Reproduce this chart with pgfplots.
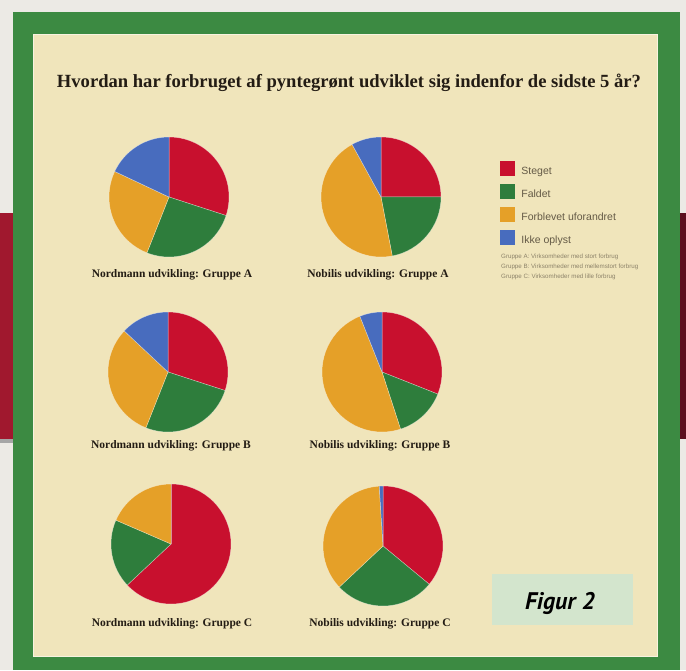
\documentclass[border=0pt]{standalone}
\usepackage{pgfplots}
\usepackage{pgfplotstable}
\pgfplotsset{compat=1.18}
\usepackage{fontspec}
\usepackage{graphicx}
\setmainfont{Liberation Serif}
\newfontfamily\sans{Liberation Sans}
\newfontfamily\figfont{PT Sans}

\definecolor{cRed}{RGB}{200,16,46}
\definecolor{cGreen}{RGB}{46,125,60}
\definecolor{cOrange}{RGB}{229,160,40}
\definecolor{cBlue}{RGB}{72,108,190}
\definecolor{frame}{RGB}{60,138,66}
\definecolor{paper}{RGB}{240,229,187}
\definecolor{outer}{RGB}{236,234,229}
\definecolor{band}{RGB}{160,24,46}
\definecolor{bandR}{RGB}{92,15,30}
\definecolor{figbox}{RGB}{211,229,205}
\definecolor{ink}{RGB}{35,28,20}
\definecolor{legtext}{RGB}{100,90,70}
\definecolor{notetext}{RGB}{140,130,105}

% share of each answer (percent), one row per pie
\pgfplotstableread{
pie  steget faldet uforandret ikke
NA   30     26     26         18
BA   25     22     45         8
NB   30     26     31         13
BB   31     14     49         6
NC   63     18.5   18.5       0
BC   36     27     36         1
}\piedata

\pgfplotsset{pieaxis/.style={width=120pt,height=120pt,scale only axis,hide axis,
  xmin=-1,xmax=1,ymin=-1,ymax=1,anchor=center,clip=false}}

\tikzset{slice/.style={draw=white,draw opacity=0.45,line width=0.5pt}}

% #1 row, #2 #3 centre (px), #4 label, #5 #6 label position (px)
\newcommand\pie[6]{%
  \pgfplotstablegetelem{#1}{steget}\of\piedata\let\vA\pgfplotsretval
  \pgfplotstablegetelem{#1}{faldet}\of\piedata\let\vB\pgfplotsretval
  \pgfplotstablegetelem{#1}{uforandret}\of\piedata\let\vC\pgfplotsretval
  \pgfplotstablegetelem{#1}{ikke}\of\piedata\let\vD\pgfplotsretval
  \pgfmathsetmacro\aA{90}%
  \pgfmathsetmacro\aB{\aA-3.6*\vA}%
  \pgfmathsetmacro\aC{\aB-3.6*\vB}%
  \pgfmathsetmacro\aD{\aC-3.6*\vC}%
  \pgfmathsetmacro\aE{\aD-3.6*\vD}%
  \begin{axis}[pieaxis,at={(#2pt,{670pt-#3pt})}]
    \fill[cRed,slice] (axis cs:0,0) -- (axis cs:{cos(\aA)},{sin(\aA)}) arc[start angle=\aA,end angle=\aB,radius=60pt] -- cycle;
    \fill[cGreen,slice] (axis cs:0,0) -- (axis cs:{cos(\aB)},{sin(\aB)}) arc[start angle=\aB,end angle=\aC,radius=60pt] -- cycle;
    \fill[cOrange,slice] (axis cs:0,0) -- (axis cs:{cos(\aC)},{sin(\aC)}) arc[start angle=\aC,end angle=\aD,radius=60pt] -- cycle;
    \fill[cBlue,slice] (axis cs:0,0) -- (axis cs:{cos(\aD)},{sin(\aD)}) arc[start angle=\aD,end angle=\aE,radius=60pt] -- cycle;
  \end{axis}
  \node[font=\bfseries\fontsize{11.5}{13}\selectfont,text=ink,inner sep=0pt] at (#5,670-#6) {#4};
}

\begin{document}
\begin{tikzpicture}[x=1pt,y=1pt]
% background, frame and paper
\fill[outer] (0,0) rectangle (686,670);
\fill[black!35] (0,670-443) rectangle (13,670-439);
\fill[band] (0,670-439) rectangle (13,670-213);
\fill[bandR] (680,670-439) rectangle (686,670-213);
\fill[frame] (13,0) rectangle (680,670-12);
\fill[paper] (33,13) rectangle (658,670-34);
\draw[white!55!paper,line width=1pt] (33.5,13.5) rectangle (657.5,670-34.5);

\node[inner sep=0pt,text=ink] at (349,670-83)
  {\resizebox{584pt}{!}{\bfseries Hvordan har forbruget af pyntegrønt udviklet sig indenfor de sidste 5 år?}};

\pie{0}{169}{197}{Nordmann udvikling: Gruppe A}{172}{275}
\pie{1}{381}{197}{Nobilis udvikling: Gruppe A}{378}{275}
\pie{2}{168}{372}{Nordmann udvikling: Gruppe B}{171}{446}
\pie{3}{382}{372}{Nobilis udvikling: Gruppe B}{380}{446}
\pie{4}{171}{544}{Nordmann udvikling: Gruppe C}{172}{624}
\pie{5}{383}{546}{Nobilis udvikling: Gruppe C}{380}{624}

% legend
\begin{axis}[hide axis,scale only axis,width=10pt,height=10pt,
  xmin=0,xmax=1,ymin=0,ymax=1,at={(500pt,{670pt-161pt})},anchor=north west,
  legend style={at={(0,1)},anchor=north west,draw=none,fill=none,inner sep=0pt,outer sep=0pt,
    row sep=7.7pt,font=\sans\fontsize{10.5}{12}\selectfont,text=legtext,
    nodes={inner sep=0pt}},
  legend cell align=left,
  legend image code/.code={\fill[#1] (0pt,-3.5pt) rectangle (14pt,10.5pt); \path (21pt,0pt);}]
  \addlegendimage{cRed}\addlegendentry{Steget}
  \addlegendimage{cGreen}\addlegendentry{Faldet}
  \addlegendimage{cOrange}\addlegendentry{Forblevet uforandret}
  \addlegendimage{cBlue}\addlegendentry{Ikke oplyst}
\end{axis}

\node[anchor=north west,align=left,inner sep=0pt,text=notetext,
  font=\sans\fontsize{6.2}{10}\selectfont] at (501,670-254)
  {Gruppe A: Virksomheder med stort forbrug\\
   Gruppe B: Virksomheder med mellemstort forbrug\\
   Gruppe C: Virksomheder med lille forbrug};

% figure tag
\fill[figbox] (492,670-574) rectangle (633,670-625);
\node[anchor=base west,inner sep=0pt,text=black,
  font=\figfont\bfseries\itshape\fontsize{24}{26}\selectfont] at (525,670-610) {Figur 2};
\end{tikzpicture}
\end{document}
